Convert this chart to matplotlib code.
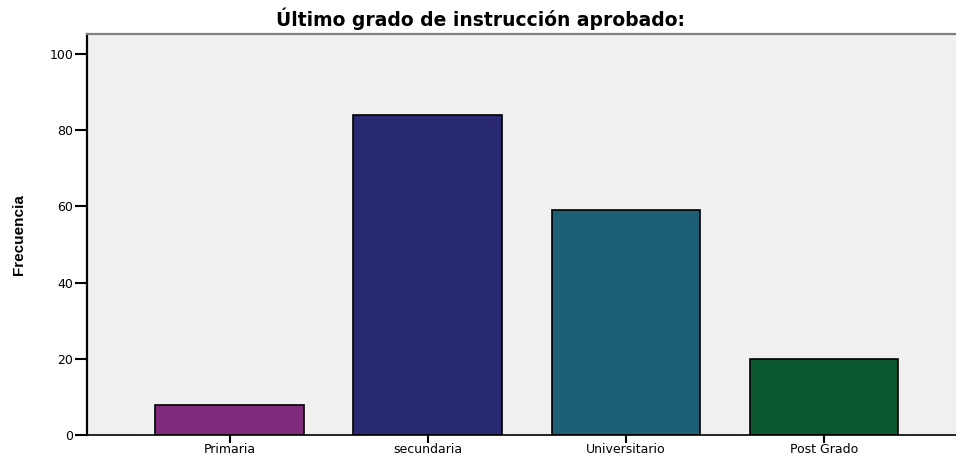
import matplotlib.pyplot as plt
from matplotlib import font_manager

categorias = ["Primaria", "secundaria", "Universitario", "Post Grado"]
frecuencias = [8, 84, 59, 20]
colores = ["#7f2a7a", "#292a72", "#1d5f75", "#0b5730"]
y_ticks = [0, 20, 40, 60, 80, 100]

nombres = {f.name for f in font_manager.fontManager.ttflist}
narrow = "Liberation Sans Narrow" if "Liberation Sans Narrow" in nombres else "Liberation Sans"

plt.rcParams['font.family'] = ['DejaVu Sans']

fig = plt.figure(figsize=(9.56, 4.55), dpi=100)
ax = fig.add_axes([87 / 956, 20 / 455, 1 - 87 / 956, 401 / 455])
ax.set_facecolor("#f0f0f0")

x = range(len(categorias))
ax.bar(x, frecuencias, width=0.75, color=colores, edgecolor="black", linewidth=1.2, zorder=2)

ax.set_xlim(-0.72, 3.667)
ax.set_ylim(0, 105.2)
ax.set_yticks(y_ticks)
ax.set_xticks(list(x))
ax.set_xticklabels(categorias)
ax.tick_params(axis="y", length=9, width=1.5, labelsize=9, pad=1)
ax.tick_params(axis="x", length=6, width=1.5, labelsize=9, pad=0)

ax.spines["left"].set_linewidth(1.6)
ax.spines["bottom"].set_linewidth(1.2)
ax.spines["top"].set_color("#808080")
ax.spines["top"].set_linewidth(1.6)
ax.spines["right"].set_visible(False)

ax.set_ylabel("Frecuencia", family=[narrow, 'DejaVu Sans'], fontweight="bold", fontsize=11, labelpad=17)
fig.text(481 / 956, 1 - 19 / 455, "Último grado de instrucción aprobado:", ha="center", va="center",
         fontsize=13.5, fontweight="bold")

plt.savefig("out.png", dpi=100)
